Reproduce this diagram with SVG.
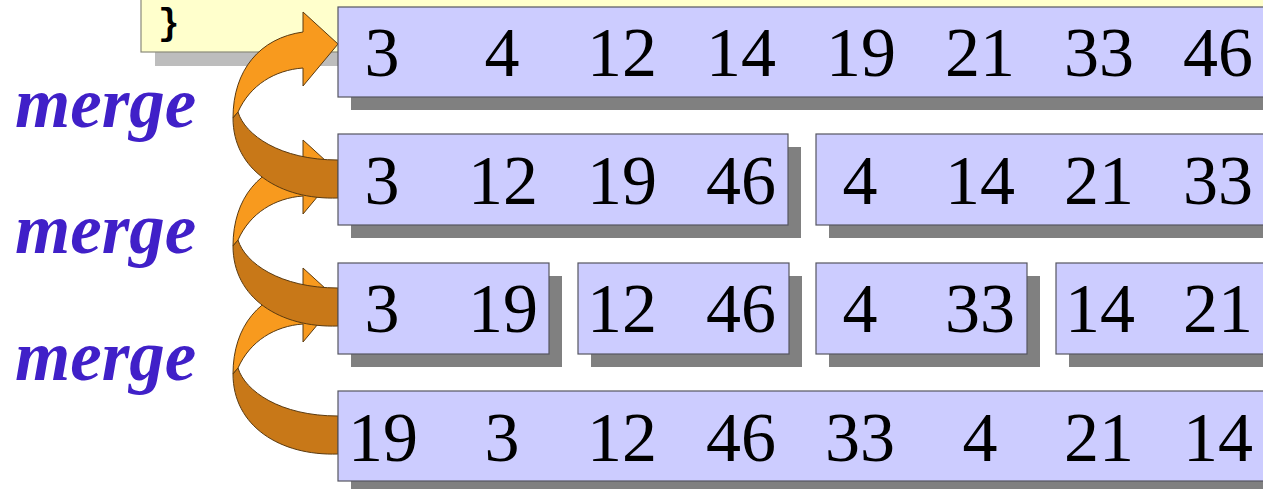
<svg xmlns="http://www.w3.org/2000/svg" width="1263" height="489" viewBox="0 0 1263 489">
<style>
.box{fill:#CCCCFF;stroke:#555560;stroke-width:1.2}
.sh{fill:#808080}
.num{font-family:"Liberation Serif","Times New Roman",serif;font-size:70px;fill:#000;text-anchor:middle}
.mg{font-family:"Liberation Serif","Times New Roman",serif;font-size:71px;font-weight:bold;font-style:italic;fill:#4020C8}
.light{fill:#F89A1E;stroke:#5A3A10;stroke-width:1}
.dark{fill:#C87818;stroke:#5A3A10;stroke-width:1}
</style>
<defs>
<g id="arrow">
<path class="light" d="M303,32 L303,12 L338,44 L303,86 L303,68 C275,70 250,85 238,112 L233,118 C233,70 260,38 303,32 Z"/>
<path class="dark" d="M338,160 C280,160 245,135 238,112 L233,118 C233,170 280,200 338,198 Z"/>
</g>
</defs>
<rect width="1263" height="489" fill="#FFFFFF"/>
<g id="code">
<rect x="155" y="52" width="200" height="14" fill="#BDBDBD"/>
<rect x="141" y="-5" width="1130" height="57" fill="#FFFFCC" stroke="#8A8A7A" stroke-width="1.2"/>
<text x="158" y="34" font-family="Liberation Mono,monospace" font-weight="bold" font-size="36" fill="#000">}</text>
</g>
<g id="labels">
<text class="mg" x="15" y="127">merge</text>
<text class="mg" x="15" y="253">merge</text>
<text class="mg" x="15" y="380">merge</text>
</g>
<g id="connectors">
<use href="#arrow" transform="translate(0,256)"/>
<use href="#arrow" transform="translate(0,128)"/>
<use href="#arrow"/>
</g>
<g id="row1">
<rect class="sh" x="351" y="20" width="930" height="90"/>
<rect class="box" x="338" y="7" width="940" height="90"/>
<text class="num" y="76"><tspan x="382">3</tspan><tspan x="502">4</tspan><tspan x="622">12</tspan><tspan x="741">14</tspan><tspan x="861">19</tspan><tspan x="980">21</tspan><tspan x="1099">33</tspan><tspan x="1218">46</tspan></text>
</g>
<g id="row2a">
<rect class="sh" x="351" y="147" width="450" height="91"/>
<rect class="box" x="338" y="134" width="450" height="91"/>
<text class="num" y="204"><tspan x="382">3</tspan><tspan x="503">12</tspan><tspan x="622">19</tspan><tspan x="741">46</tspan></text>
</g>
<g id="row2b">
<rect class="sh" x="829" y="147" width="450" height="91"/>
<rect class="box" x="816" y="134" width="460" height="91"/>
<text class="num" y="204"><tspan x="860">4</tspan><tspan x="980">14</tspan><tspan x="1099">21</tspan><tspan x="1218">33</tspan></text>
</g>
<g id="row3a">
<rect class="sh" x="351" y="276" width="211" height="91"/>
<rect class="box" x="338" y="263" width="211" height="91"/>
<text class="num" y="332"><tspan x="382">3</tspan><tspan x="503">19</tspan></text>
</g>
<g id="row3b">
<rect class="sh" x="591" y="276" width="211" height="91"/>
<rect class="box" x="578" y="263" width="211" height="91"/>
<text class="num" y="332"><tspan x="622">12</tspan><tspan x="741">46</tspan></text>
</g>
<g id="row3c">
<rect class="sh" x="829" y="276" width="211" height="91"/>
<rect class="box" x="816" y="263" width="211" height="91"/>
<text class="num" y="332"><tspan x="860">4</tspan><tspan x="980">33</tspan></text>
</g>
<g id="row3d">
<rect class="sh" x="1069" y="276" width="220" height="91"/>
<rect class="box" x="1056" y="263" width="220" height="91"/>
<text class="num" y="332"><tspan x="1100">14</tspan><tspan x="1218">21</tspan></text>
</g>
<g id="row4">
<rect class="sh" x="351" y="404" width="930" height="90"/>
<rect class="box" x="338" y="391" width="940" height="90"/>
<text class="num" y="461"><tspan x="383">19</tspan><tspan x="502">3</tspan><tspan x="622">12</tspan><tspan x="741">46</tspan><tspan x="860">33</tspan><tspan x="980">4</tspan><tspan x="1099">21</tspan><tspan x="1218">14</tspan></text>
</g>
</svg>
